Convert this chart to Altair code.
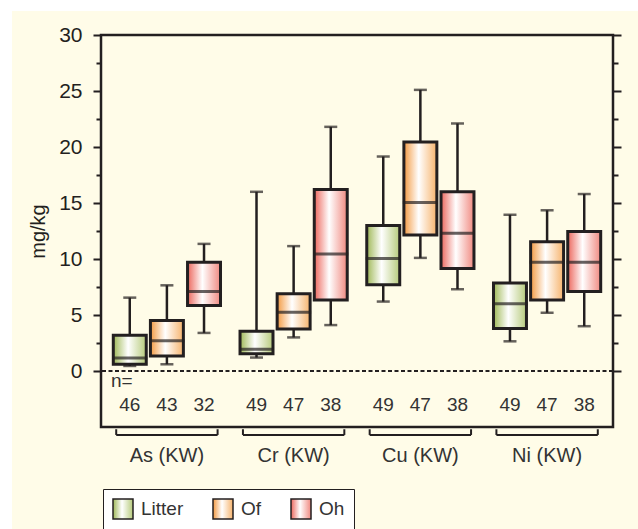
import altair as alt
import pandas as pd

# ---- data ----
elements = ["As (KW)", "Cr (KW)", "Cu (KW)", "Ni (KW)"]
horizons = ["Litter", "Of", "Oh"]
n_counts = [[46, 43, 32], [49, 47, 38], [49, 47, 38], [49, 47, 38]]
whisker_low = [[0.45, 0.6, 3.4], [1.2, 3.0, 4.1], [6.2, 10.1, 7.3], [2.65, 5.2, 4.0]]
q1 = [[0.6, 1.35, 5.85], [1.55, 3.75, 6.35], [7.7, 12.15, 9.15], [3.8, 6.35, 7.1]]
median = [[1.15, 2.7, 7.1], [1.95, 5.25, 10.45], [10.05, 15.05, 12.3], [6.0, 9.7, 9.7]]
q3 = [[3.2, 4.5, 9.7], [3.55, 6.9, 16.2], [13.0, 20.45, 16.0], [7.85, 11.55, 12.45]]
whisker_high = [[6.55, 7.65, 11.35], [16.0, 11.15, 21.8], [19.15, 25.1, 22.1], [13.95, 14.35, 15.8]]
y_ticks = [0, 2.5, 5, 7.5, 10, 12.5, 15, 17.5, 20, 22.5, 25, 27.5, 30]

rows = []
for i, el in enumerate(elements):
    for j, hz in enumerate(horizons):
        rows.append(dict(element=el, horizon=hz, n=n_counts[i][j],
                         lo=whisker_low[i][j], q1=q1[i][j], med=median[i][j],
                         q3=q3[i][j], hi=whisker_high[i][j]))
df = pd.DataFrame(rows)
groups = pd.DataFrame({"element": elements})
one = pd.DataFrame({"k": [0]})

INK = "#231f20"
FONT = "Liberation Sans"
edge = {"Litter": ("#9fb857", "#b6ca7b"), "Of": ("#f39a42", "#f6b36c"), "Oh": ("#ec675d", "#f08980")}
legend_fill = ["#c3d396", "#f8c083", "#f4a098"]


def grad(left, right):
    return alt.Gradient(gradient="linear", x1=0, x2=1, y1=0, y2=0,
                        stops=[alt.GradientStop(color=left, offset=0),
                               alt.GradientStop(color="#ffffff", offset=0.45),
                               alt.GradientStop(color=right, offset=1)])


def grad_expr(left, right):
    return ("{gradient:'linear',x1:0,y1:0,x2:1,y2:0,stops:[{offset:0,color:'%s'},"
            "{offset:0.45,color:'#ffffff'},{offset:1,color:'%s'}]}" % (left, right))


legend_fill_signal = "datum.value === 'Litter' ? %s : (datum.value === 'Of' ? %s : %s)" % (
    grad_expr(*edge["Litter"]), grad_expr(*edge["Of"]), grad_expr(*edge["Oh"]))

tick_size = {"condition": {"test": "datum.value % 5 === 0", "value": 8}, "value": 5}

x_axis = alt.Axis(orient="bottom", domain=False, ticks=False, labelAngle=0, title=None,
                  labelFontSize=20, labelColor="#333333", labelFont=FONT, labelPadding=18, zindex=1)
xscale = alt.Scale(type="band", domain=elements, paddingInner=0, paddingOuter=0.02)
X = alt.X("element:N", scale=xscale, axis=x_axis)
XO = alt.XOffset("horizon:N", scale=alt.Scale(type="band", domain=horizons, paddingInner=0.112, paddingOuter=0.263))
yscale = alt.Scale(domain=[-5, 30], nice=False, zero=False)

left_axis = alt.Axis(orient="left", values=y_ticks, labelExpr="datum.value % 5 === 0 ? datum.label : ''",
                     tickSize=tick_size, tickWidth=2, tickColor=INK, domain=False, grid=False,
                     labelFontSize=21, labelColor=INK, labelFont=FONT, labelPadding=11,
                     title="mg/kg", titleFontSize=20, titleFontWeight="normal", titleColor=INK,
                     titleFont=FONT, titlePadding=10, zindex=1)
right_axis = alt.Axis(orient="right", values=y_ticks, labels=False, tickSize=tick_size, tickWidth=2,
                      tickColor=INK, domain=False, grid=False, title=None, zindex=1)

base = alt.Chart(df).encode(x=X, xOffset=XO)

# decorative white strips outside the cream area
strip_top = alt.Chart(one).mark_rect(color="white").encode(
    x=alt.value(-101), x2=alt.value(537), y=alt.value(-35), y2=alt.value(-24))
strip_left = alt.Chart(one).mark_rect(color="white").encode(
    x=alt.value(-101), x2=alt.value(-89), y=alt.value(-35), y2=alt.value(494))

zero_line = alt.Chart(one).mark_rule(color=INK, strokeWidth=2, strokeDash=[4, 2.5]).encode(
    y=alt.YDatum(0, type="quantitative", scale=yscale, axis=None))

whisk_lo = base.mark_rule(color=INK, strokeWidth=2.5).encode(
    y=alt.Y("lo:Q", scale=yscale, axis=right_axis), y2="q1:Q")
whisk_hi = base.mark_rule(color=INK, strokeWidth=2.5).encode(
    y=alt.Y("q3:Q", scale=yscale, axis=None), y2="hi:Q")
cap_lo = base.mark_tick(color=INK, size=13, thickness=2.5).encode(y=alt.Y("lo:Q", scale=yscale, axis=None))
cap_hi = base.mark_tick(color=INK, size=13, thickness=2.5).encode(y=alt.Y("hi:Q", scale=yscale, axis=None))

boxes = []
for k, hz in enumerate(horizons):
    boxes.append(
        base.transform_filter(alt.datum.horizon == hz)
        .mark_bar(color=grad(*edge[hz]), stroke=INK, strokeWidth=3)
        .encode(y=alt.Y("q1:Q", scale=yscale, axis=left_axis if k == 0 else None), y2="q3:Q")
    )

medians = base.mark_tick(color=INK, size=35, thickness=3).encode(y=alt.Y("med:Q", scale=yscale, axis=None))

n_text = base.mark_text(fontSize=19, font=FONT, color="#333333", baseline="alphabetic").encode(
    y=alt.YDatum(-3.57, type="quantitative", scale=yscale, axis=None), text=alt.Text("n:Q"))
n_eq = alt.Chart(one).mark_text(text="n=", fontSize=19, font=FONT, color="#333333", align="left",
                                baseline="alphabetic").encode(
    x=alt.value(10), y=alt.YDatum(-1.43, type="quantitative", scale=yscale, axis=None))

br_h = alt.Chart(groups).mark_rule(color=INK, strokeWidth=2).encode(
    x=alt.X("element:N", bandPosition=0.1, scale=xscale, axis=x_axis),
    x2=alt.X2("element:N", bandPosition=0.9),
    y=alt.YDatum(-5.71, type="quantitative", scale=yscale, axis=None))
br_l = alt.Chart(groups).mark_rule(color=INK, strokeWidth=2).encode(
    x=alt.X("element:N", bandPosition=0.1, scale=xscale, axis=x_axis),
    y=alt.YDatum(-5.2, type="quantitative", scale=yscale, axis=None),
    y2=alt.Y2Datum(-5.71))
br_r = alt.Chart(groups).mark_rule(color=INK, strokeWidth=2).encode(
    x=alt.X("element:N", bandPosition=0.9, scale=xscale, axis=x_axis),
    y=alt.YDatum(-5.2, type="quantitative", scale=yscale, axis=None),
    y2=alt.Y2Datum(-5.71))

legend_common = dict(orient="none", legendX=2, legendY=454, direction="horizontal",
                     title=None, fillColor="white", strokeColor=INK, padding=9,
                     symbolType="square", symbolSize=400,
                     symbolStrokeWidth=1.5, symbolOpacity=1, labelFontSize=19,
                     labelFont=FONT, labelColor="#333333", labelOffset=7,
                     columnPadding=26, zindex=1)


def legend_gradient():
    # the legend symbols take the mark's fill/stroke expressions, evaluated for each legend entry
    return alt.Chart(df).mark_point(filled=True, opacity=0, fill=alt.ExprRef(expr=legend_fill_signal),
                                    stroke=alt.ExprRef(expr="'%s'" % INK), strokeWidth=1.5).encode(
        shape=alt.Shape("horizon:N", scale=alt.Scale(domain=horizons, range=["square", "square", "square"]),
                        legend=alt.Legend(**legend_common)))


def legend_solid():
    return alt.Chart(df).mark_square(opacity=0).encode(
        color=alt.Color("horizon:N", scale=alt.Scale(domain=horizons, range=legend_fill),
                        legend=alt.Legend(symbolStrokeColor=INK, **legend_common)))


def build(legend_layer):
    return alt.layer(
        strip_top, strip_left, zero_line, whisk_lo, whisk_hi, cap_lo, cap_hi, *boxes, medians,
        n_text, n_eq, br_h, br_l, br_r, legend_layer
    ).resolve_axis(y="independent").properties(
        width=512, height=392, background="#fffce8",
        padding={"left": 101, "top": 35, "right": 25, "bottom": 102},
        autosize=alt.AutoSizeParams(type="none"),
    ).configure_view(fill="white", stroke=INK, strokeWidth=2.5)


try:
    chart = build(legend_gradient())
    chart.to_dict()
except Exception:
    chart = build(legend_solid())

chart.save("out.html", embed_options={"renderer": "svg", "actions": False})
